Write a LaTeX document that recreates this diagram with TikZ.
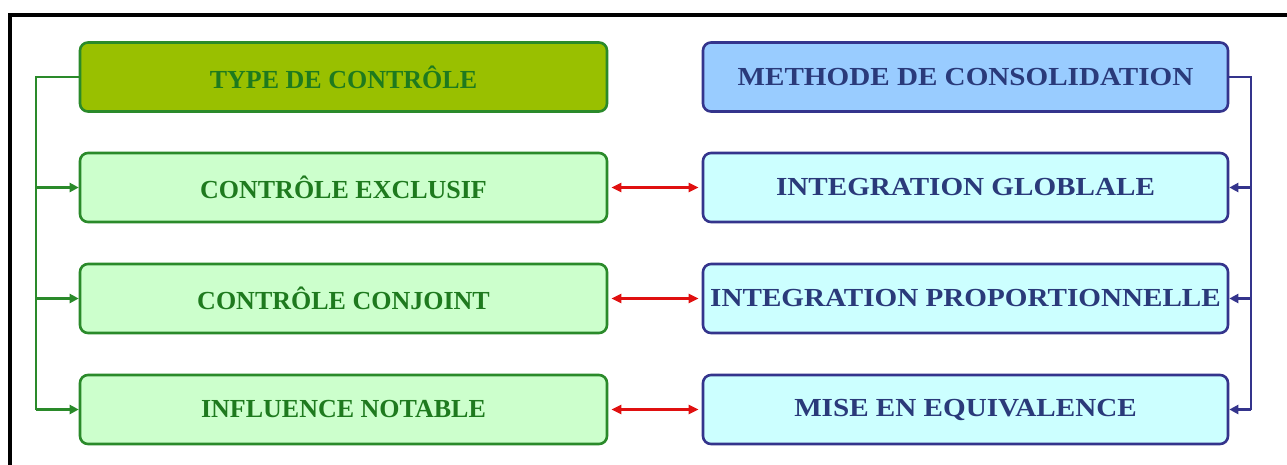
\documentclass[tikz,border=0pt]{standalone}
\usepackage{fontspec}
\setmainfont{Liberation Serif}
\newfontfamily\widefont[FakeStretch=1.12]{Liberation Serif}
\usetikzlibrary{arrows.meta}
\definecolor{gtop}{HTML}{99C000}
\definecolor{gfill}{HTML}{CCFFCC}
\definecolor{gline}{HTML}{2A8A2A}
\definecolor{gtext}{HTML}{1E7A1E}
\definecolor{btop}{HTML}{99CCFF}
\definecolor{bfill}{HTML}{CCFFFF}
\definecolor{bline}{HTML}{34348C}
\definecolor{btext}{HTML}{2A3A7A}
\definecolor{rline}{HTML}{E01010}
\tikzset{
  gbox/.style={draw=gline, line width=2.6pt, rounded corners=8pt, fill=gfill, minimum width=527pt, minimum height=69pt, text=gtext, font=\fontsize{26}{30}\selectfont\bfseries, inner sep=0pt},
  bbox/.style={draw=bline, line width=2.6pt, rounded corners=8pt, fill=bfill, minimum width=525pt, minimum height=69pt, text=btext, font=\widefont\fontsize{26}{30}\selectfont\bfseries, inner sep=0pt},
  garr/.style={draw=gline, line width=2.6pt, -{Triangle[length=9pt,width=9pt]}},
  barr/.style={draw=bline, line width=2.6pt, -{Triangle[length=9pt,width=9pt]}},
  rarr/.style={draw=rline, line width=2.4pt, {Triangle[length=10pt,width=9pt]}-{Triangle[length=10pt,width=9pt]}},
}
\begin{document}
\begin{tikzpicture}[x=1pt,y=-1pt]
\useasboundingbox (0,0) rectangle (1287,464);
\fill[white] (0,0) rectangle (1287,464);
\draw[line width=4.5pt, black] (10,466) -- (10,15) -- (1289,15);
% left column
\node[gbox, fill=gtop] (tc) at (343.5,77) {TYPE DE CONTRÔLE};
\node[gbox] (ce) at (343.5,187.5) {CONTRÔLE EXCLUSIF};
\node[gbox] (cc) at (343.5,298.5) {CONTRÔLE CONJOINT};
\node[gbox] (in) at (343.5,409.5) {INFLUENCE NOTABLE};
% right column
\node[bbox, fill=btop] (mc) at (965.5,77) {METHODE DE CONSOLIDATION};
\node[bbox] (ig) at (965.5,187.5) {INTEGRATION GLOBLALE};
\node[bbox] (ip) at (965.5,298.5) {INTEGRATION PROPORTIONNELLE};
\node[bbox] (me) at (965.5,409.5) {MISE EN EQUIVALENCE};
% left bus
\coordinate (lb) at (36,77);
\draw[draw=gline, line width=2.6pt] (tc.west) -- (lb) -- (lb |- in.west);
\draw[garr] (lb |- ce.west) -- (ce.west);
\draw[garr] (lb |- cc.west) -- (cc.west);
\draw[garr] (lb |- in.west) -- (in.west);
% right bus
\coordinate (rb) at (1251,77);
\draw[draw=bline, line width=2.6pt] (mc.east) -- (rb) -- (rb |- me.east);
\draw[barr] (rb |- ig.east) -- (ig.east);
\draw[barr] (rb |- ip.east) -- (ip.east);
\draw[barr] (rb |- me.east) -- (me.east);
% red links
\draw[rarr] ([xshift=3pt]ce.east) -- ([xshift=-3pt]ig.west);
\draw[rarr] ([xshift=3pt]cc.east) -- ([xshift=-3pt]ip.west);
\draw[rarr] ([xshift=3pt]in.east) -- ([xshift=-3pt]me.west);
\end{tikzpicture}
\end{document}
